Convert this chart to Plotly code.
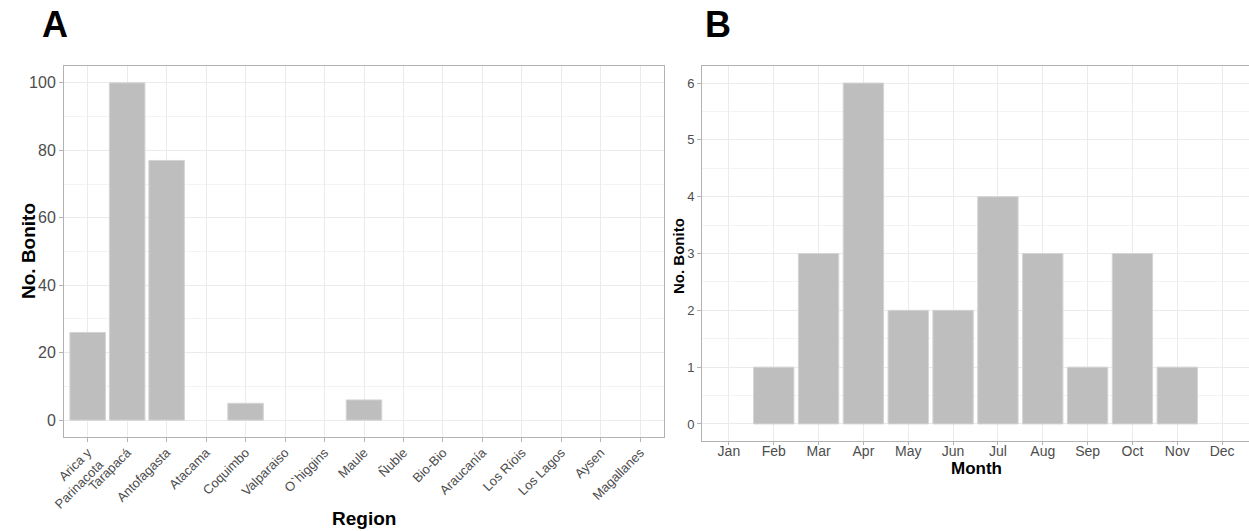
import plotly.graph_objects as go

regions = ["Arica y<br>Parinacota", "Tarapacá", "Antofagasta", "Atacama", "Coquimbo",
           "Valparaiso", "O`higgins", "Maule", "Ñuble", "Bio-Bio", "Araucanía",
           "Los Ríois", "Los Lagos", "Aysen", "Magallanes"]
region_counts = [26, 100, 77, 0, 5, 0, 0, 6, 0, 0, 0, 0, 0, 0, 0]

months = ["Jan", "Feb", "Mar", "Apr", "May", "Jun", "Jul", "Aug", "Sep", "Oct", "Nov", "Dec"]
month_counts = [0, 1, 3, 6, 2, 2, 4, 3, 1, 3, 1, 0]

W, H = 1249, 531
FONT = "Liberation Sans, Arial, sans-serif"
BAR = "#bebebe"
EDGE = "#d4d4d4"
GRID = "#ebebeb"
BORDER = "#b3b3b3"
TICKC = "#4d4d4d"

def px(x):
    return x / W

def py(y):
    return 1 - y / H

fig = go.Figure()
fig.add_trace(go.Bar(x=regions, y=[v if v > 0 else None for v in region_counts],
                     marker=dict(color=BAR, line=dict(color=EDGE, width=1)),
                     width=0.9, xaxis="x", yaxis="y", showlegend=False))
fig.add_trace(go.Bar(x=months, y=[v if v > 0 else None for v in month_counts],
                     marker=dict(color=BAR, line=dict(color=EDGE, width=1)),
                     width=0.9, xaxis="x2", yaxis="y2", showlegend=False))

axis_common = dict(showline=True, mirror=True, linecolor=BORDER, linewidth=1,
                   ticks="outside", ticklen=4, tickcolor=BORDER, zeroline=False,
                   gridcolor=GRID, gridwidth=1, showgrid=True, automargin=False)

fig.update_layout(
    width=W, height=H, autosize=False,
    margin=dict(l=0, r=0, t=0, b=0, pad=0),
    plot_bgcolor="white", paper_bgcolor="white",
    font=dict(family=FONT, color=TICKC),
    bargap=0.1,
    xaxis=dict(domain=[px(64), px(664)], anchor="y", type="category",
               range=[-0.6, len(regions) - 0.4], tickangle=-45, ticklabelstandoff=-2,
               tickfont=dict(size=13, color=TICKC, family=FONT), **axis_common),
    yaxis=dict(domain=[py(437), py(66)], anchor="x", range=[-5, 105],
               tickvals=[0, 20, 40, 60, 80, 100],
               minor=dict(dtick=10, tick0=0, showgrid=True, gridcolor="#f3f3f3", ticks=""),
               tickfont=dict(size=16, color=TICKC, family=FONT), **axis_common),
    xaxis2=dict(domain=[px(702), px(1249)], anchor="y2", type="category",
                range=[-0.6, len(months) - 0.4], ticklabelstandoff=-6,
                tickfont=dict(size=14, color=TICKC, family=FONT), **axis_common),
    yaxis2=dict(domain=[py(441), py(66)], anchor="x2", range=[-0.3, 6.3],
                tickvals=[0, 1, 2, 3, 4, 5, 6],
                minor=dict(dtick=0.5, tick0=0, showgrid=True, gridcolor="#f3f3f3", ticks=""),
                tickfont=dict(size=13, color=TICKC, family=FONT), **axis_common),
)
fig.update_xaxes(ticklen=3, selector=dict(anchor="y2"))

ann = [
    dict(text="<b>A</b>", x=px(40), y=py(2), xanchor="left", yanchor="top",
         font=dict(size=36, color="black", family=FONT)),
    dict(text="<b>B</b>", x=px(703), y=py(2), xanchor="left", yanchor="top",
         font=dict(size=36, color="black", family=FONT)),
    dict(text="<b>No. Bonito</b>", x=px(28), y=py(251), textangle=-90,
         xanchor="center", yanchor="middle", font=dict(size=19, color="black", family=FONT)),
    dict(text="<b>No. Bonito</b>", x=px(679), y=py(256), textangle=-90,
         xanchor="center", yanchor="middle", font=dict(size=15, color="black", family=FONT)),
    dict(text="<b>Region</b>", x=px(364), y=py(518), xanchor="center", yanchor="middle",
         font=dict(size=19, color="black", family=FONT)),
    dict(text="<b>Month</b>", x=px(976), y=py(468), xanchor="center", yanchor="middle",
         font=dict(size=17, color="black", family=FONT)),
]
for a in ann:
    a.update(xref="paper", yref="paper", showarrow=False)
fig.update_layout(annotations=ann)

fig.write_html("out.html", config={"responsive": False, "displayModeBar": False},
               post_script="document.body.style.margin='0';document.body.style.overflow='hidden';")
